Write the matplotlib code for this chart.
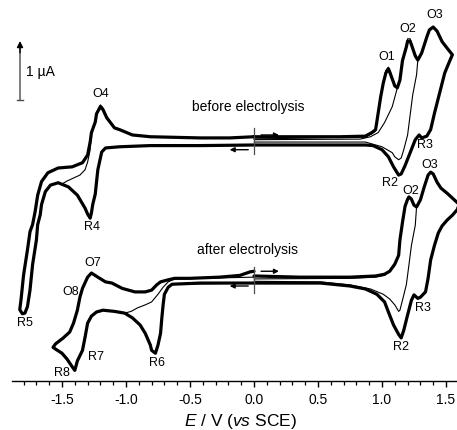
import matplotlib
matplotlib.use('Agg')
import matplotlib.pyplot as plt
from matplotlib.ticker import FixedLocator, MultipleLocator, FormatStrFormatter

plt.rcParams['font.family'] = ['Liberation Sans', 'DejaVu Sans']
plt.rcParams['mathtext.fontset'] = 'custom'
plt.rcParams['mathtext.rm'] = 'Liberation Sans'
plt.rcParams['mathtext.it'] = 'Liberation Sans:italic'
plt.rcParams['axes.unicode_minus'] = False

# ---------------- data (E in V vs SCE, I in uA) ----------------
# before electrolysis, full scan (thick)
before_E = [0.00, 0.36, 0.67, 0.87, 0.92, 0.95, 0.97, 0.99, 1.01, 1.03, 1.05, 1.06, 1.08, 1.10, 1.12, 1.14,
            1.16, 1.19, 1.20, 1.22, 1.23, 1.26, 1.28, 1.31, 1.35, 1.37, 1.40, 1.43, 1.47, 1.52, 1.55, 1.53,
            1.49, 1.45, 1.41, 1.38, 1.35, 1.31, 1.29, 1.26, 1.22, 1.18, 1.15, 1.13, 1.09, 1.05, 1.00, 0.93,
            0.87, 0.67, 0.36, 0.00,
            -0.42, -0.81, -1.05, -1.16, -1.19, -1.20, -1.22, -1.23, -1.24, -1.26, -1.27, -1.28, -1.30, -1.32,
            -1.38, -1.45, -1.53, -1.59, -1.63, -1.66, -1.67, -1.69, -1.70, -1.73, -1.75, -1.77, -1.79, -1.81,
            -1.83, -1.82, -1.80, -1.77, -1.75, -1.73, -1.71, -1.69, -1.66, -1.61, -1.53, -1.42, -1.34, -1.30,
            -1.28, -1.27, -1.24, -1.23, -1.20, -1.18, -1.15, -1.09, -1.05, -0.95, -0.81, -0.42, -0.19, 0.00]
before_I = [0.07, 0.07, 0.07, 0.08, 0.14, 0.19, 0.47, 0.75, 0.98, 1.15, 1.22, 1.17, 1.05, 0.93, 0.90, 1.03,
            1.36, 1.59, 1.69, 1.69, 1.63, 1.44, 1.37, 1.49, 1.76, 1.88, 1.93, 1.86, 1.68, 1.54, 1.46, 1.36,
            1.15, 0.81, 0.47, 0.19, 0.08, 0.05, 0.10, 0.02, -0.20, -0.42, -0.56, -0.58, -0.44, -0.27, -0.15, -0.08,
            -0.07, -0.07, -0.07, -0.07,
            -0.08, -0.08, -0.10, -0.12, -0.19, -0.29, -0.49, -0.69, -0.90, -1.08, -1.22, -1.31, -1.24, -1.14,
            -0.92, -0.78, -0.71, -0.75, -0.86, -1.08, -1.25, -1.42, -1.68, -2.10, -2.53, -2.81, -2.92, -2.93,
            -2.86, -2.69, -2.27, -1.85, -1.54, -1.42, -1.20, -0.92, -0.69, -0.54, -0.46, -0.44, -0.37, -0.24,
            -0.02, 0.14, 0.32, 0.46, 0.58, 0.53, 0.39, 0.22, 0.19, 0.10, 0.07, 0.05, 0.05, 0.07]

# before electrolysis, scan reversed after O2 (thin)
before_thin1_E = [0.00, 0.87, 0.92, 0.95, 0.97, 0.99, 1.01, 1.03, 1.05, 1.06, 1.08, 1.10, 1.12, 1.14, 1.16, 1.19,
                  1.20, 1.22, 1.23, 1.26, 1.28, 1.27, 1.24, 1.22, 1.20, 1.17, 1.15, 1.13, 1.10, 1.08, 1.00, 0.87,
                  0.59, 0.00]
before_thin1_I = [0.03, 0.07, 0.12, 0.17, 0.46, 0.75, 0.98, 1.19, 1.25, 1.20, 1.07, 0.95, 0.92, 1.05, 1.37, 1.63,
                  1.73, 1.73, 1.64, 1.47, 1.37, 1.12, 0.78, 0.44, 0.10, -0.15, -0.29, -0.32, -0.27, -0.20, -0.10, -0.02,
                  -0.02, -0.02]
# before electrolysis, scan reversed after O1 (thin)
before_thin2_E = [0.00, 0.87, 0.92, 0.95, 0.97, 0.99, 1.01, 1.03, 1.05, 1.06, 1.08, 1.10, 1.12, 1.08, 1.02,
                  0.97, 0.91, 0.83, 0.00]
before_thin2_I = [0.05, 0.07, 0.12, 0.17, 0.46, 0.75, 0.98, 1.19, 1.24, 1.19, 1.07, 0.95, 0.90, 0.58, 0.31,
                  0.14, 0.07, 0.03, 0.02]
# before electrolysis, scan reversed at -1.5 V (thin)
before_thin3_E = [-0.81, -1.05, -1.16, -1.19, -1.20, -1.22, -1.23, -1.24, -1.26, -1.27, -1.28, -1.30, -1.32,
                  -1.38, -1.45, -1.50, -1.46, -1.41, -1.36, -1.32, -1.30, -1.28, -1.27, -1.24, -1.23, -1.20,
                  -1.18, -1.15, -1.09, -1.05, -0.95, -0.81]
before_thin3_I = [-0.08, -0.10, -0.12, -0.19, -0.29, -0.49, -0.69, -0.90, -1.08, -1.22, -1.31, -1.24, -1.14,
                  -0.92, -0.78, -0.73, -0.68, -0.63, -0.58, -0.49, -0.36, -0.15, 0.14, 0.33, 0.48, 0.61,
                  0.56, 0.41, 0.23, 0.20, 0.11, 0.07]

# after electrolysis, full scan (thick)
after_E = [0.00, 0.36, 0.75, 0.95, 1.02, 1.06, 1.10, 1.13, 1.14, 1.16, 1.18, 1.20, 1.21, 1.23, 1.25, 1.27,
           1.30, 1.33, 1.36, 1.38, 1.40, 1.43, 1.46, 1.51, 1.55, 1.60, 1.59, 1.55, 1.51, 1.47, 1.44, 1.41,
           1.38, 1.36, 1.34, 1.30, 1.28, 1.25, 1.23, 1.20, 1.17, 1.15, 1.13, 1.09, 1.05, 1.02, 0.96, 0.87,
           0.75, 0.52, 0.00,
           -0.42, -0.64, -0.67, -0.70, -0.71, -0.72, -0.73, -0.75, -0.77, -0.80, -0.81, -0.85, -0.89, -0.95,
           -1.01, -1.09, -1.18, -1.23, -1.27, -1.30, -1.32, -1.34, -1.38, -1.40, -1.42, -1.46, -1.50, -1.55,
           -1.57, -1.55, -1.49, -1.44, -1.41, -1.38, -1.36, -1.34, -1.30, -1.27, -1.22, -1.16, -1.11, -1.03,
           -0.93, -0.85, -0.80, -0.76, -0.73, -0.68, -0.62, -0.50, -0.27, -0.11, -0.03, 0.00]
after_I = [0.07, 0.05, 0.05, 0.07, 0.10, 0.15, 0.27, 0.42, 0.68, 0.98, 1.25, 1.37, 1.41, 1.37, 1.27, 1.24,
           1.36, 1.58, 1.78, 1.83, 1.80, 1.66, 1.56, 1.47, 1.39, 1.29, 1.20, 1.10, 1.02, 0.92, 0.80, 0.59,
           0.34, 0.03, -0.20, -0.29, -0.31, -0.25, -0.34, -0.59, -0.85, -0.98, -0.92, -0.76, -0.54, -0.37,
           -0.24, -0.15, -0.10, -0.05, -0.05,
           -0.05, -0.07, -0.12, -0.24, -0.42, -0.64, -0.90, -1.10, -1.24, -1.19, -1.10, -0.90, -0.76, -0.64,
           -0.56, -0.53, -0.51, -0.54, -0.61, -0.73, -0.97, -1.19, -1.37, -1.53, -1.47, -1.34, -1.24, -1.17,
           -1.14, -1.08, -0.98, -0.88, -0.73, -0.51, -0.29, -0.14, 0.05, 0.12, 0.05, -0.03, -0.05, -0.14,
           -0.20, -0.20, -0.17, -0.08, -0.03, 0.00, 0.03, 0.03, 0.05, 0.08, 0.14, 0.15]
# after electrolysis, scan reversed after O2 (thin)
after_thin1_E = [0.00, 0.75, 0.95, 1.02, 1.06, 1.10, 1.13, 1.14, 1.16, 1.18, 1.20, 1.21, 1.23, 1.25, 1.27,
                 1.26, 1.23, 1.21, 1.19, 1.16, 1.14, 1.13, 1.10, 1.06, 1.01, 0.91, 0.75, 0.52, 0.00]
after_thin1_I = [0.02, 0.03, 0.05, 0.08, 0.15, 0.27, 0.42, 0.68, 0.98, 1.25, 1.37, 1.42, 1.39, 1.29, 1.24,
                 0.93, 0.59, 0.25, -0.08, -0.34, -0.51, -0.53, -0.42, -0.32, -0.24, -0.15, -0.08, -0.03, -0.02]
# after electrolysis, scan reversed at -1.0 V (thin)
after_thin2_E = [0.00, -0.64, -0.67, -0.70, -0.71, -0.72, -0.73, -0.75, -0.77, -0.80, -0.81, -0.85, -0.89,
                 -0.95, -1.01, -0.96, -0.91, -0.85, -0.80, -0.75, -0.71, -0.67, -0.62, -0.42, 0.00]
after_thin2_I = [-0.05, -0.07, -0.12, -0.24, -0.42, -0.64, -0.90, -1.10, -1.24, -1.19, -1.10, -0.90, -0.76,
                 -0.64, -0.56, -0.53, -0.47, -0.42, -0.37, -0.24, -0.12, -0.03, 0.02, 0.03, 0.05]

tick_values = [-1.5, -1.0, -0.5, 0.0, 0.5, 1.0, 1.5]

# vertical offsets (uA) used to stack the two voltammograms
OFF_B = 4.07
OFF_A = 1.71


def sh(vals, off):
    return [v + off for v in vals]


# ---------------- figure ----------------
W, H = 457, 430
fig = plt.figure(figsize=(W / 100, H / 100), dpi=100)
x0, x1 = -1.89, (457 - 254) / 128
left_px = 254 + 128 * x0
ax = fig.add_axes([left_px / W, (H - 381) / H, (W - left_px) / W, 381 / H])
ax.set_xlim(x0, x1)
ax.set_ylim(0, 381 / 59)

thin = dict(color='black', lw=0.8, solid_joinstyle='round', solid_capstyle='round')
thick = dict(color='black', lw=2.3, solid_joinstyle='round', solid_capstyle='round')

ax.plot(before_thin1_E, sh(before_thin1_I, OFF_B), **thin)
ax.plot(before_thin2_E, sh(before_thin2_I, OFF_B), **thin)
ax.plot(before_thin3_E, sh(before_thin3_I, OFF_B), **thin)
ax.plot(before_E, sh(before_I, OFF_B), **thick)

ax.plot(after_thin1_E, sh(after_thin1_I, OFF_A), **thin)
ax.plot(after_thin2_E, sh(after_thin2_I, OFF_A), **thin)
ax.plot(after_E, sh(after_I, OFF_A), **thick)

# axes styling
for s in ['top', 'right', 'left']:
    ax.spines[s].set_visible(False)
ax.spines['bottom'].set_linewidth(1.0)
ax.set_yticks([])
ax.xaxis.set_major_locator(FixedLocator(tick_values))
ax.xaxis.set_minor_locator(MultipleLocator(0.1))
ax.xaxis.set_major_formatter(FormatStrFormatter('%.1f'))
ax.tick_params(axis='x', which='major', direction='out', length=4.5, width=1.0, pad=4, labelsize=10)
ax.tick_params(axis='x', which='minor', direction='out', length=2.8, width=0.9)
ax.set_xlabel(r'$\it{E}$ / V ($\it{vs}$ SCE)', fontsize=12.5)
ax.xaxis.set_label_coords(0.513, -0.082)

# scale bar 1 uA
sb_x = -1.828
sb_y0 = 4.763
ax.plot([sb_x, sb_x], [sb_y0, sb_y0 + 0.9], color='0.45', lw=1.3, solid_capstyle='butt')
ax.annotate('', xy=(sb_x, sb_y0 + 1.0), xytext=(sb_x, sb_y0 + 0.8),
            arrowprops=dict(arrowstyle='-|>', color='black', lw=1.0, mutation_scale=9,
                            shrinkA=0, shrinkB=0))
ax.plot([sb_x - 0.022, sb_x + 0.022], [sb_y0, sb_y0], color='0.3', lw=1.0)
ax.text(-1.781, 5.237, '1 µA', fontsize=10, ha='left', va='center')

# scan direction markers at 0 V
for off, up_dy, dn_dy in [(OFF_B, 0.10, -0.15), (OFF_A, 0.15, -0.10)]:
    ax.plot([0.0, 0.0], [off - 0.22, off + 0.22], color='0.3', lw=0.9)
    ax.annotate('', xy=(0.195, off + up_dy), xytext=(0.055, off + up_dy),
                arrowprops=dict(arrowstyle='-|>', color='black', lw=1.0, mutation_scale=7,
                                shrinkA=0, shrinkB=0))
    ax.annotate('', xy=(-0.19, off + dn_dy), xytext=(-0.045, off + dn_dy),
                arrowprops=dict(arrowstyle='-|>', color='black', lw=1.0, mutation_scale=7,
                                shrinkA=0, shrinkB=0))

ax.text(-0.047, 4.644, 'before electrolysis', fontsize=10, ha='center', va='center')
ax.text(-0.047, 2.22, 'after electrolysis', fontsize=10, ha='center', va='center')

labels = [('O1', 1.039, 5.49), ('O2', 1.203, 5.966), ('O3', 1.414, 6.203), ('R3', 1.336, 4.0),
          ('R2', 1.0625, 3.356), ('O4', -1.195, 4.864), ('R4', -1.266, 2.61), ('R5', -1.789, 0.983),
          ('O2', 1.227, 3.22), ('O3', 1.375, 3.661), ('R3', 1.320, 1.237), ('R2', 1.148, 0.576),
          ('O7', -1.258, 2.0), ('O8', -1.43, 1.508), ('R7', -1.234, 0.407), ('R8', -1.5, 0.136),
          ('R6', -0.758, 0.305)]
for t, x, y in labels:
    ax.text(x, y, t, fontsize=9, ha='center', va='center')

fig.savefig('out.png', dpi=100)
